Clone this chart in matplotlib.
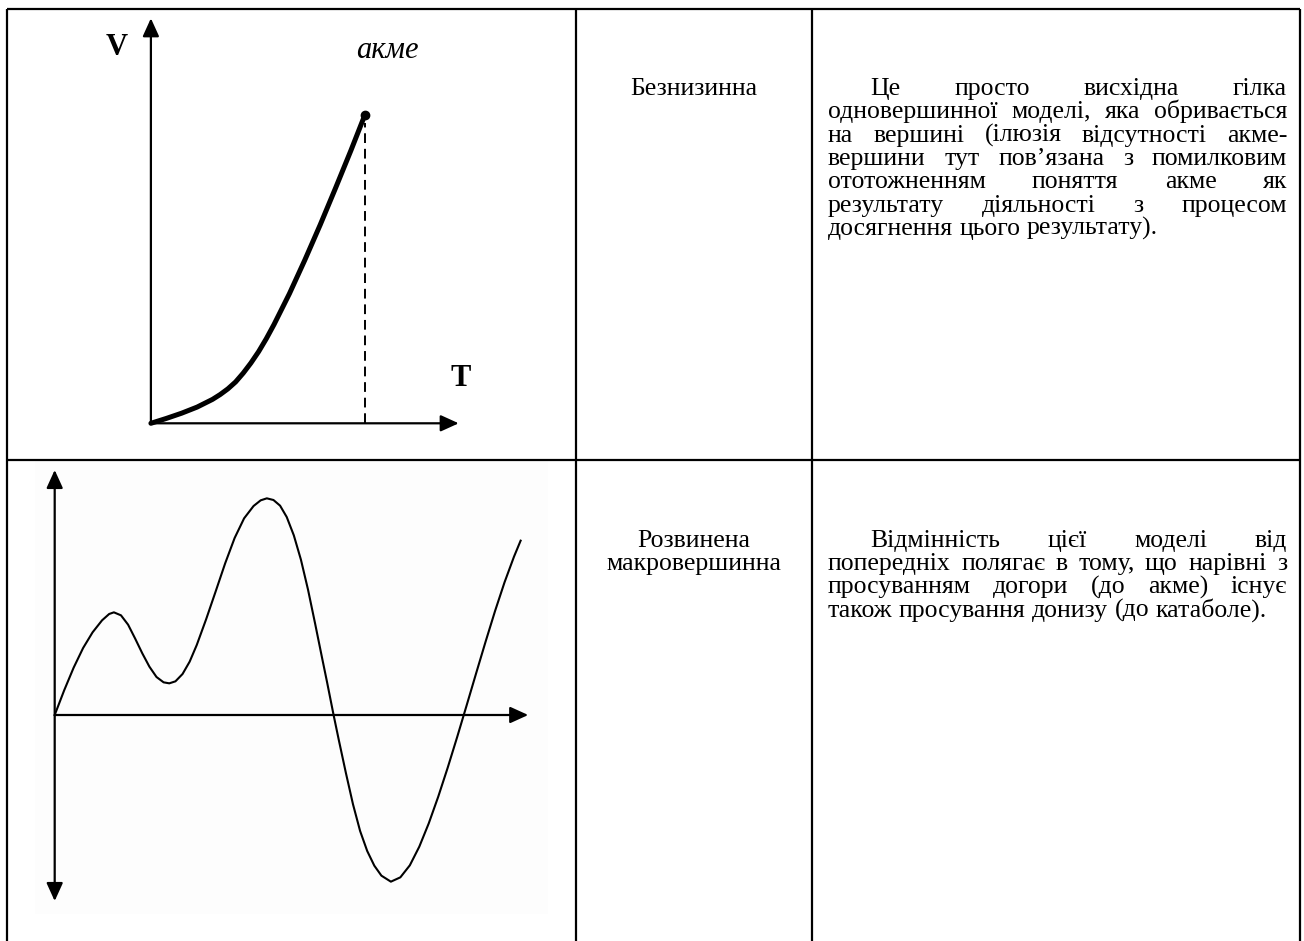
import matplotlib
matplotlib.use("Agg")
import matplotlib.pyplot as plt
from matplotlib.patches import Rectangle

# --- дані ---------------------------------------------------------------
# модель "Безнизинна": висхідна гілка до акме (T, V в умовних одиницях)
t_rise = [0.0, 0.5, 1.0, 1.5, 2.0, 2.25, 2.5, 2.75, 3.0, 3.25, 3.5, 3.75, 4.0,
          4.5, 5.0, 5.5, 6.0, 6.5, 6.95]
v_rise = [0.0, 0.12, 0.25, 0.40, 0.59, 0.71, 0.85, 1.02, 1.24, 1.49, 1.77, 2.09, 2.44,
          3.20, 4.03, 4.90, 5.81, 6.74, 7.61]
t_acme = 6.95
v_acme = 7.61

# модель "Розвинена макровершинна"
t_wave = [0.0, 0.2, 0.4, 0.6, 0.8, 1.0, 1.15, 1.25, 1.4, 1.55, 1.7, 1.85, 2.0, 2.15,
          2.3, 2.42, 2.55, 2.7, 2.85, 3.0, 3.2, 3.4, 3.6, 3.8, 4.0, 4.2, 4.35, 4.48,
          4.62, 4.76, 4.9, 5.05, 5.2, 5.35, 5.5, 5.65, 5.75, 5.89, 6.0, 6.15, 6.3,
          6.45, 6.6, 6.75, 6.9, 7.1, 7.3, 7.5, 7.7, 7.9, 8.1, 8.3, 8.5, 8.7, 8.9,
          9.1, 9.3, 9.5, 9.7, 9.84]
v_wave = [0.0, 0.74, 1.42, 2.01, 2.48, 2.84, 3.03, 3.08, 2.99, 2.71, 2.29, 1.85, 1.45,
          1.14, 0.98, 0.95, 1.01, 1.23, 1.60, 2.10, 2.88, 3.71, 4.55, 5.31, 5.90, 6.27,
          6.44, 6.50, 6.45, 6.28, 5.94, 5.39, 4.66, 3.76, 2.74, 1.69, 1.00, 0.00, -0.75,
          -1.74, -2.68, -3.48, -4.08, -4.52, -4.82, -5.00, -4.87, -4.51, -3.95, -3.25,
          -2.45, -1.58, -0.66, 0.29, 1.25, 2.20, 3.12, 3.98, 4.75, 5.23]

names = [["Безнизинна"], ["Розвинена", "макровершинна"]]
texts = [
    [["Це", "просто", "висхідна", "гілка"],
     ["одновершинної", "моделі,", "яка", "обривається"],
     ["на", "вершині", "(ілюзія", "відсутності", "акме-"],
     ["вершини", "тут", "пов’язана", "з", "помилковим"],
     ["ототожненням", "поняття", "акме", "як"],
     ["результату", "діяльності", "з", "процесом"],
     ["досягнення", "цього", "результату)."]],
    [["Відмінність", "цієї", "моделі", "від"],
     ["попередніх", "полягає", "в", "тому,", "що", "нарівні", "з"],
     ["просуванням", "догори", "(до", "акме)", "існує"],
     ["також", "просування", "донизу", "(до", "катаболе)."]],
]

# --- розмітка -----------------------------------------------------------
W, H, DPI = 1304, 941, 100
SERIF = "Liberation Serif"
FS = 18.5
LINE = 23.3

fig = plt.figure(figsize=(W / DPI, H / DPI), dpi=DPI)
base = fig.add_axes([0, 0, 1, 1])
base.set_xlim(0, W)
base.set_ylim(H, 0)
base.axis("off")

# таблиця
x_left, x_c1, x_c2, x_right = 7, 576, 812, 1300
y_top, y_mid = 9, 460
base.add_patch(Rectangle((35, 461), 513, 453, fc="#fdfdfd", ec="none", zorder=0))
kw = dict(color="black", lw=1.6, solid_capstyle="butt", zorder=1)
base.plot([x_left, x_right], [y_top, y_top], **kw)
base.plot([x_left, x_right], [y_mid, y_mid], **kw)
for x in (x_left, x_c1, x_c2, x_right):
    base.plot([x, x], [y_top, H], **kw)


def arrow(ax, p0, p1, both=False, lw=1.6):
    style = "<|-|>" if both else "-|>"
    ax.annotate("", xy=p1, xytext=p0, annotation_clip=False,
                arrowprops=dict(arrowstyle=style + ",head_length=1.1,head_width=0.5",
                                lw=lw, color="black", mutation_scale=10,
                                shrinkA=0, shrinkB=0))


# графік 1
ax1 = fig.add_axes([150.9 / W, (H - 423.3) / H, 307.8 / W, 405 / H])
ax1.set_xlim(0, 10)
ax1.set_ylim(0, 10)
ax1.axis("off")
arrow(ax1, (0, 0), (0, 10))
arrow(ax1, (0, 0), (10, 0))
ax1.plot(t_rise, v_rise, color="black", lw=3.6, solid_capstyle="round",
         solid_joinstyle="round", clip_on=False)
ax1.plot([t_acme], [v_acme], "o", color="black", ms=6, clip_on=False)
ax1.plot([t_acme, t_acme], [0, v_acme - 0.2], color="black", lw=1.4,
         ls=(0, (5, 3)), clip_on=False)
base.text(117, 47, "V", fontsize=22, fontweight="bold", family=SERIF,
          ha="center", va="center")
base.text(461, 379, "T", fontsize=22, fontweight="bold", family=SERIF,
          ha="center", va="center")
base.text(387, 50, "акме", fontsize=22, style="italic", family=SERIF,
          ha="center", va="center")

# графік 2
ax2 = fig.add_axes([54.7 / W, (H - 901) / H, 473.5 / W, 431 / H])
ax2.set_xlim(0, 10)
ax2.set_ylim(-5.58, 7.35)
ax2.axis("off")
arrow(ax2, (0, -5.58), (0, 7.35), both=True)
arrow(ax2, (0, 0), (10, 0))
ax2.plot(t_wave, v_wave, color="black", lw=1.5, solid_joinstyle="round",
         clip_on=False)

# текст
renderer = fig.canvas.get_renderer()
col3_l, col3_r, indent = 828, 1287, 42
first_base = [95, 546.7]
col2_c = (x_c1 + x_c2) / 2


def put_line(words, x0, x1, y, justify):
    arts = [base.text(0, y, w, fontsize=FS, family=SERIF, va="baseline")
            for w in words]
    widths = [a.get_window_extent(renderer).width for a in arts]
    gap = FS * 0.25 * DPI / 72
    if justify and len(words) > 1:
        gap = (x1 - x0 - sum(widths)) / (len(words) - 1)
    x = x0
    for a, w in zip(arts, widths):
        a.set_x(x)
        x += w + gap


for r in range(2):
    for i, s in enumerate(names[r]):
        base.text(col2_c, first_base[r] + i * LINE, s, fontsize=FS, family=SERIF,
                  ha="center", va="baseline")
    lines = texts[r]
    for i, words in enumerate(lines):
        x0 = col3_l + (indent if i == 0 else 0)
        put_line(words, x0, col3_r, first_base[r] + i * LINE, i < len(lines) - 1)

fig.savefig("out.png", dpi=DPI)
